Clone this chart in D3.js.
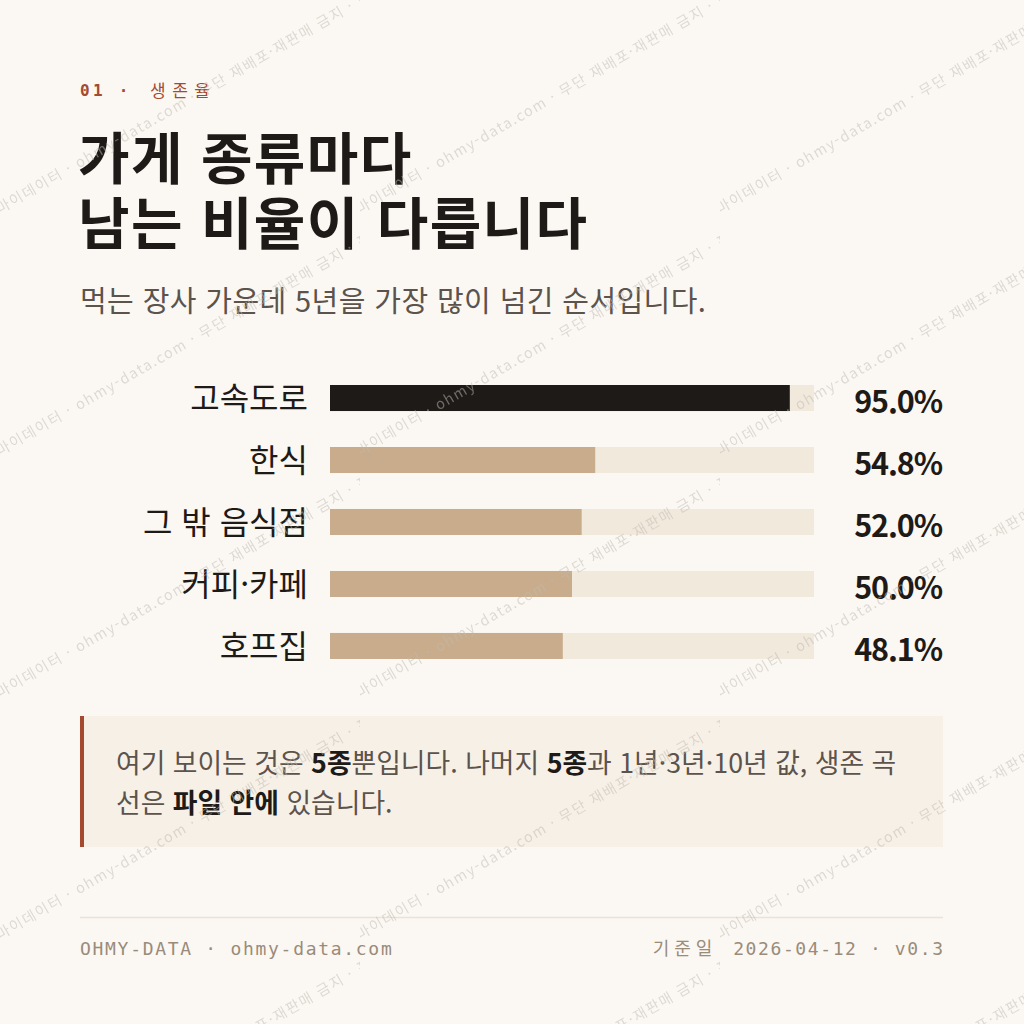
<!DOCTYPE html>
<html lang="ko">
<head>
<meta charset="utf-8">
<title>생존율</title>
<script src="https://cdn.jsdelivr.net/npm/d3@7"></script>
<style>
  html, body { margin: 0; padding: 0; background: #fbf8f3; }
  svg { display: block; }
</style>
</head>
<body>
<div id="chart"></div>
<script>
// 5년 생존율 — 가게 종류별 가로 막대. 맨 위 한 줄만 진하게 강조.

const categories = ['고속도로', '한식', '그 밖 음식점', '커피·카페', '호프집'];
const rates = [95.0, 54.8, 52.0, 50.0, 48.1];
const highlighted = ['고속도로'];
const axisMax = 100;

const noteLines = [
  [['여기 보이는 것은 ', false], ['5종', true], ['뿐입니다. 나머지 ', false], ['5종', true], ['과 1년·3년·10년 값, 생존 곡', false]],
  [['선은 ', false], ['파일 안에', true], [' 있습니다.', false]]
];

const PALETTE = {
  paper: '#fbf8f3',
  ink: '#1e1a17',
  sub: '#5b534c',
  accent: '#a44a31',
  bar: '#c8ac8b',
  track: '#f2e9dd',
  note: '#f7f0e7',
  rule: '#e9e2d7',
  foot: '#9a8b7a',
  mark: 'rgb(192,185,178)'
};

const SANS = '"Noto Sans CJK KR", "Noto Sans", sans-serif';
const MONO = '"DejaVu Sans Mono", "Noto Sans CJK KR", monospace';

const W = 1024, H = 1024;
const left = 80, right = 943;

const svg = d3.select('#chart').append('svg')
  .attr('width', W).attr('height', H)
  .attr('viewBox', `0 0 ${W} ${H}`);

svg.append('rect').attr('width', W).attr('height', H).attr('fill', PALETTE.paper);

// eyebrow
svg.append('text')
  .attr('x', left).attr('y', 96)
  .attr('font-family', MONO).attr('font-weight', 700)
  .attr('font-size', 16).attr('letter-spacing', 3.3)
  .attr('fill', PALETTE.accent)
  .text('01 ·');
svg.append('text')
  .attr('x', 150).attr('y', 97)
  .attr('font-family', SANS).attr('font-weight', 400)
  .attr('font-size', 17).attr('letter-spacing', 6.5)
  .attr('fill', PALETTE.accent)
  .text('생존율');

// title
['가게 종류마다', '남는 비율이 다릅니다'].forEach((line, i) => {
  svg.append('text')
    .attr('x', left - 2).attr('y', 179 + i * 65)
    .attr('font-family', SANS).attr('font-weight', 700)
    .attr('font-size', 56).attr('letter-spacing', 1.4)
    .attr('fill', PALETTE.ink)
    .text(line);
});

svg.append('text')
  .attr('x', left).attr('y', 312)
  .attr('font-family', SANS).attr('font-weight', 400)
  .attr('font-size', 29).attr('letter-spacing', 0.4)
  .attr('fill', PALETTE.sub)
  .text('먹는 장사 가운데 5년을 가장 많이 넘긴 순서입니다.');

// bars
const x = d3.scaleLinear().domain([0, axisMax]).range([330, 814]);
const y = d3.scaleBand().domain(categories).range([385, 659]).paddingInner(0.58).paddingOuter(0);
const fmt = d3.format('.1f');

const rows = svg.append('g').selectAll('g')
  .data(categories.map((c, i) => ({ cat: c, v: rates[i] })))
  .join('g');

rows.append('rect')
  .attr('x', x(0)).attr('y', d => y(d.cat))
  .attr('width', x(axisMax) - x(0)).attr('height', y.bandwidth())
  .attr('fill', PALETTE.track);

rows.append('rect')
  .attr('x', x(0)).attr('y', d => y(d.cat))
  .attr('width', d => x(d.v) - x(0)).attr('height', y.bandwidth())
  .attr('fill', d => highlighted.includes(d.cat) ? PALETTE.ink : PALETTE.bar);

rows.append('text')
  .attr('x', 308).attr('y', d => y(d.cat) + y.bandwidth() / 2 + 12)
  .attr('text-anchor', 'end')
  .attr('font-family', SANS).attr('font-size', 32)
  .attr('fill', PALETTE.ink)
  .text(d => d.cat);

rows.append('text')
  .attr('x', right - 1).attr('y', d => y(d.cat) + y.bandwidth() / 2 + 15)
  .attr('text-anchor', 'end')
  .attr('font-family', SANS).attr('font-weight', 700).attr('font-size', 30.5)
  .attr('letter-spacing', -1.1)
  .attr('fill', PALETTE.ink)
  .text(d => fmt(d.v) + '%');

// note box
svg.append('rect')
  .attr('x', left).attr('y', 716)
  .attr('width', right - left).attr('height', 131)
  .attr('fill', PALETTE.note);
svg.append('rect')
  .attr('x', left).attr('y', 716)
  .attr('width', 4).attr('height', 131)
  .attr('fill', PALETTE.accent);

noteLines.forEach((parts, i) => {
  const t = svg.append('text')
    .attr('x', 116).attr('y', 773 + i * 40)
    .attr('font-family', SANS).attr('font-size', 26.8)
    .style('white-space', 'pre');
  parts.forEach(([s, strong]) => {
    t.append('tspan')
      .attr('font-weight', strong ? 700 : 400)
      .attr('fill', strong ? PALETTE.ink : PALETTE.sub)
      .text(s);
  });
});

// footer
svg.append('line')
  .attr('x1', left).attr('x2', right)
  .attr('y1', 917.5).attr('y2', 917.5)
  .attr('stroke', PALETTE.rule).attr('stroke-width', 1.5);

svg.append('text')
  .attr('x', left).attr('y', 955)
  .attr('font-family', MONO).attr('font-size', 18).attr('letter-spacing', 1.7)
  .attr('fill', PALETTE.foot)
  .text('OHMY-DATA · ohmy-data.com');

const stamp = svg.append('text')
  .attr('x', right + 1.6).attr('y', 955)
  .attr('text-anchor', 'end')
  .attr('font-family', MONO).attr('font-size', 18).attr('letter-spacing', 1.6)
  .attr('fill', PALETTE.foot)
  .style('white-space', 'pre');
stamp.append('tspan').attr('letter-spacing', 5).text('기준일 ');
stamp.append('tspan').text('2026-04-12 · v0.3');

// watermark tile on top
const pat = svg.append('defs').append('pattern')
  .attr('id', 'wm')
  .attr('patternUnits', 'userSpaceOnUse')
  .attr('x', 0).attr('y', -26)
  .attr('width', 360).attr('height', 242);
pat.append('text')
  .attr('transform', 'translate(0,240) rotate(-30)')
  .attr('font-family', SANS).attr('font-size', 14.5).attr('letter-spacing', 1.5)
  .attr('fill', PALETTE.mark).attr('fill-opacity', 0.5)
  .text('마이데이터 · ohmy-data.com · 무단 재배포·재판매 금지 · 표본');

svg.append('rect')
  .attr('width', W).attr('height', H)
  .attr('fill', 'url(#wm)')
  .style('pointer-events', 'none');
</script>
</body>
</html>
